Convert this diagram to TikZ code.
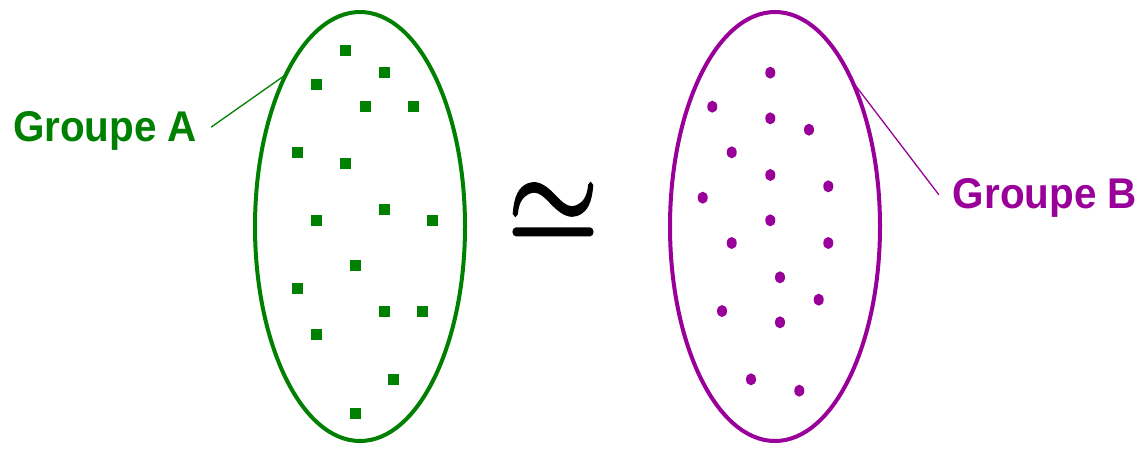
\documentclass[tikz,border=0pt]{standalone}
\usepackage{fontspec}
\setmainfont{Liberation Sans}
\newfontfamily\symfont[FakeBold=2]{Latin Modern Math}
\usetikzlibrary{shapes.geometric}
\definecolor{grpA}{RGB}{0,128,0}
\definecolor{grpB}{RGB}{153,0,153}
\begin{document}
\begin{tikzpicture}[x=1pt,y=-1pt,
  setshape/.style={draw, ellipse, line width=4pt, minimum width=210pt, minimum height=429pt, inner sep=0pt, outer sep=0pt},
  sq/.style={fill=grpA, rectangle, minimum size=11pt, inner sep=0pt},
  dt/.style={fill=grpB, ellipse, minimum width=10pt, minimum height=12pt, inner sep=0pt},
  lbl/.style={font=\fontsize{43}{50}\selectfont\bfseries, inner sep=0pt, outer sep=0pt},
  lead/.style={line width=1.3pt}]
\useasboundingbox[fill=white] (0,0) rectangle (1142,448);
% sets
\node[setshape, draw=grpA] (ellA) at (360,226.5) {};
\node[setshape, draw=grpB] (ellB) at (775,226.5) {};
% elements of A
\foreach [count=\i] \p in {(345.7,50),(384.3,72.7),(316.7,84.3),(365,106.7),(413.3,106.7),
  (297.3,152.3),(345.7,163.3),(384.3,209),(316.7,220.3),(432.3,220.3),(355.3,265.7),
  (297.3,288.3),(384.3,311),(422.7,311),(316.7,334),(393.7,379.3),(355.3,413.3)}
  \node[sq] (a\i) at \p {};
% elements of B
\foreach [count=\i] \p in {(770.3,72.7),(712.3,106.7),(770.3,118.3),(809,129.7),(731.7,152.3),
  (770.3,175),(828.3,186.3),(702.7,197.7),(770.3,220.3),(731.7,243),(828.3,243),
  (780,277.3),(818.7,299.7),(722,311),(780,322.3),(751,379.3),(799.3,390.7)}
  \node[dt] (b\i) at \p {};
% labels
\node[lbl, text=grpA, anchor=base west] (labA) at (13,141.7) {\scalebox{0.94}[1]{Groupe A}};
\node[lbl, text=grpB, anchor=base east] (labB) at (1137,208.3) {\scalebox{0.94}[1]{Groupe B}};
\draw[lead, grpA] ([xshift=14pt,yshift=4pt]labA.east) -- (ellA.116);
\draw[lead, grpB] ([xshift=-14pt,yshift=3pt]labB.west) -- (ellB.62);
% relation symbol
\node[inner sep=0pt, font=\symfont\fontsize{118}{130}\selectfont] (rel) at (553,218) {\scalebox{1}[1.25]{≃}};
\end{tikzpicture}
\end{document}
